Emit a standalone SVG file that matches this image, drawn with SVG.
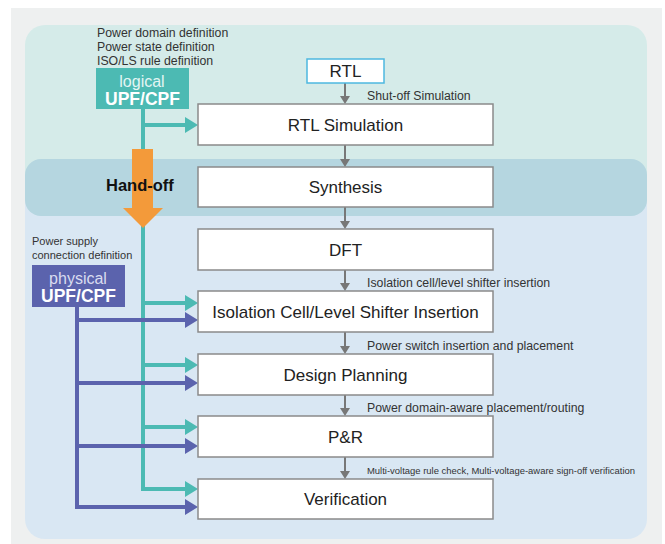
<svg xmlns="http://www.w3.org/2000/svg" width="665" height="544" viewBox="0 0 665 544">
<defs>
<style>
.box{fill:#fff;stroke:#8a8a8a;stroke-width:1.5}
.bt{font-family:"Liberation Sans",Arial,sans-serif;font-size:17px;fill:#222;text-anchor:middle}
.lb{font-family:"Liberation Sans",Arial,sans-serif;font-size:12.3px;fill:#333}
.lbs{font-family:"Liberation Sans",Arial,sans-serif;font-size:11px;fill:#333}
.lbc{font-family:"Liberation Sans",Arial,sans-serif;font-size:9px;fill:#333}
.gl{stroke:#777;stroke-width:2;fill:none}
.gh{fill:#777}
.teal{stroke:#4cbab3;stroke-width:4;fill:none}
.purp{stroke:#5b63ad;stroke-width:4;fill:none}
.th{fill:#4cbab3}
.ph{fill:#5b63ad}
.wt{font-family:"Liberation Sans",Arial,sans-serif;font-size:16px;text-anchor:middle}
.wb{font-family:"Liberation Sans",Arial,sans-serif;font-size:17.5px;font-weight:bold;text-anchor:middle;fill:#fff}
</style>
</defs>
<rect x="11" y="8" width="651" height="536" fill="#eef0f0"/>
<g id="regions">
<path d="M25,45 a20,20 0 0 1 20,-20 H627 a20,20 0 0 1 20,20 V180 H25 Z" fill="#d5ebe9"/>
<path d="M25,190 H647 V519 a20,20 0 0 1 -20,20 H45 a20,20 0 0 1 -20,-20 Z" fill="#d9e7f3"/>
<rect x="25" y="159" width="622" height="57" rx="16" fill="#b5d6e0"/>
</g>
<g id="connectors">
<path class="gl" d="M345,83 V97 M345,145 V160 M345,207 V222 M345,270 V284 M345,332 V347 M345,395 V409 M345,457 V472"/>
<path class="gh" d="M340,96 H350 L345,104 Z M340,159 H350 L345,167 Z M340,221 H350 L345,229 Z M340,283 H350 L345,291 Z M340,346 H350 L345,354 Z M340,408 H350 L345,416 Z M340,471 H350 L345,479 Z"/>
<path class="teal" d="M143,109 V491 M143,125 H186 M143,303 H186 M143,365 H186 M143,427 H186 M143,489 H186"/>
<path class="th" d="M185,117 L198,125 L185,133 Z M185,295 L198,303 L185,311 Z M185,357 L198,365 L185,373 Z M185,419 L198,427 L185,435 Z M185,481 L198,489 L185,497 Z"/>
<path class="purp" d="M77,307 V509 M77,320 H186 M77,383 H186 M77,446 H186 M75,507 H186"/>
<path class="ph" d="M185,312 L198,320 L185,328 Z M185,375 L198,383 L185,391 Z M185,438 L198,446 L185,454 Z M185,499 L198,507 L185,515 Z"/>
<path d="M132,149 H153 V208 H163 L143,228 L123,208 H132 Z" fill="#f39a3a"/>
</g>
<g id="handoff">
<text x="106" y="191" font-family="'Liberation Sans',Arial,sans-serif" font-size="16.5px" font-weight="bold" fill="#111">Hand-off</text>
</g>
<g id="logical">
<text class="lb" x="97" y="37">Power domain definition</text>
<text class="lb" x="97" y="51">Power state definition</text>
<text class="lb" x="97" y="65">ISO/LS rule definition</text>
<rect x="96" y="68" width="93" height="41" fill="#4cbab3"/>
<text class="wt" x="142" y="87" fill="#e3f5f3">logical</text>
<text class="wb" x="142.5" y="105">UPF/CPF</text>
</g>
<g id="physical">
<text class="lbs" x="32" y="245">Power supply</text>
<text class="lbs" x="32" y="259">connection definition</text>
<rect x="32" y="265" width="93" height="42" fill="#5b63ad"/>
<text class="wt" x="78" y="284" fill="#d9dcf0">physical</text>
<text class="wb" x="78.5" y="302">UPF/CPF</text>
</g>
<g id="rtl">
<rect x="307" y="59" width="77" height="24" fill="#fff" stroke="#4db8e0" stroke-width="1.5"/>
<text class="bt" x="345.5" y="77">RTL</text>
</g>
<g id="rtlsim">
<rect class="box" x="198" y="104" width="295" height="41"/>
<text class="bt" x="345.5" y="131">RTL Simulation</text>
<text class="lb" x="367" y="100">Shut-off Simulation</text>
</g>
<g id="synthesis">
<rect class="box" x="198" y="167" width="295" height="40"/>
<text class="bt" x="345.5" y="193">Synthesis</text>
</g>
<g id="dft">
<rect class="box" x="198" y="229" width="295" height="41"/>
<text class="bt" x="345.5" y="256">DFT</text>
</g>
<g id="isolation">
<text class="lb" x="367" y="287">Isolation cell/level shifter insertion</text>
<rect class="box" x="198" y="291" width="295" height="41"/>
<text class="bt" x="345.5" y="318">Isolation Cell/Level Shifter Insertion</text>
</g>
<g id="planning">
<text class="lb" x="367" y="350">Power switch insertion and placement</text>
<rect class="box" x="198" y="354" width="295" height="41"/>
<text class="bt" x="345.5" y="381">Design Planning</text>
</g>
<g id="pr">
<text class="lb" x="367" y="412">Power domain-aware placement/routing</text>
<rect class="box" x="198" y="416" width="295" height="41"/>
<text class="bt" x="345.5" y="443">P&amp;R</text>
</g>
<g id="verification">
<text class="lbc" x="367" y="474" textLength="268" lengthAdjust="spacingAndGlyphs">Multi-voltage rule check, Multi-voltage-aware sign-off verification</text>
<rect class="box" x="198" y="479" width="295" height="40"/>
<text class="bt" x="345.5" y="505">Verification</text>
</g>
</svg>
